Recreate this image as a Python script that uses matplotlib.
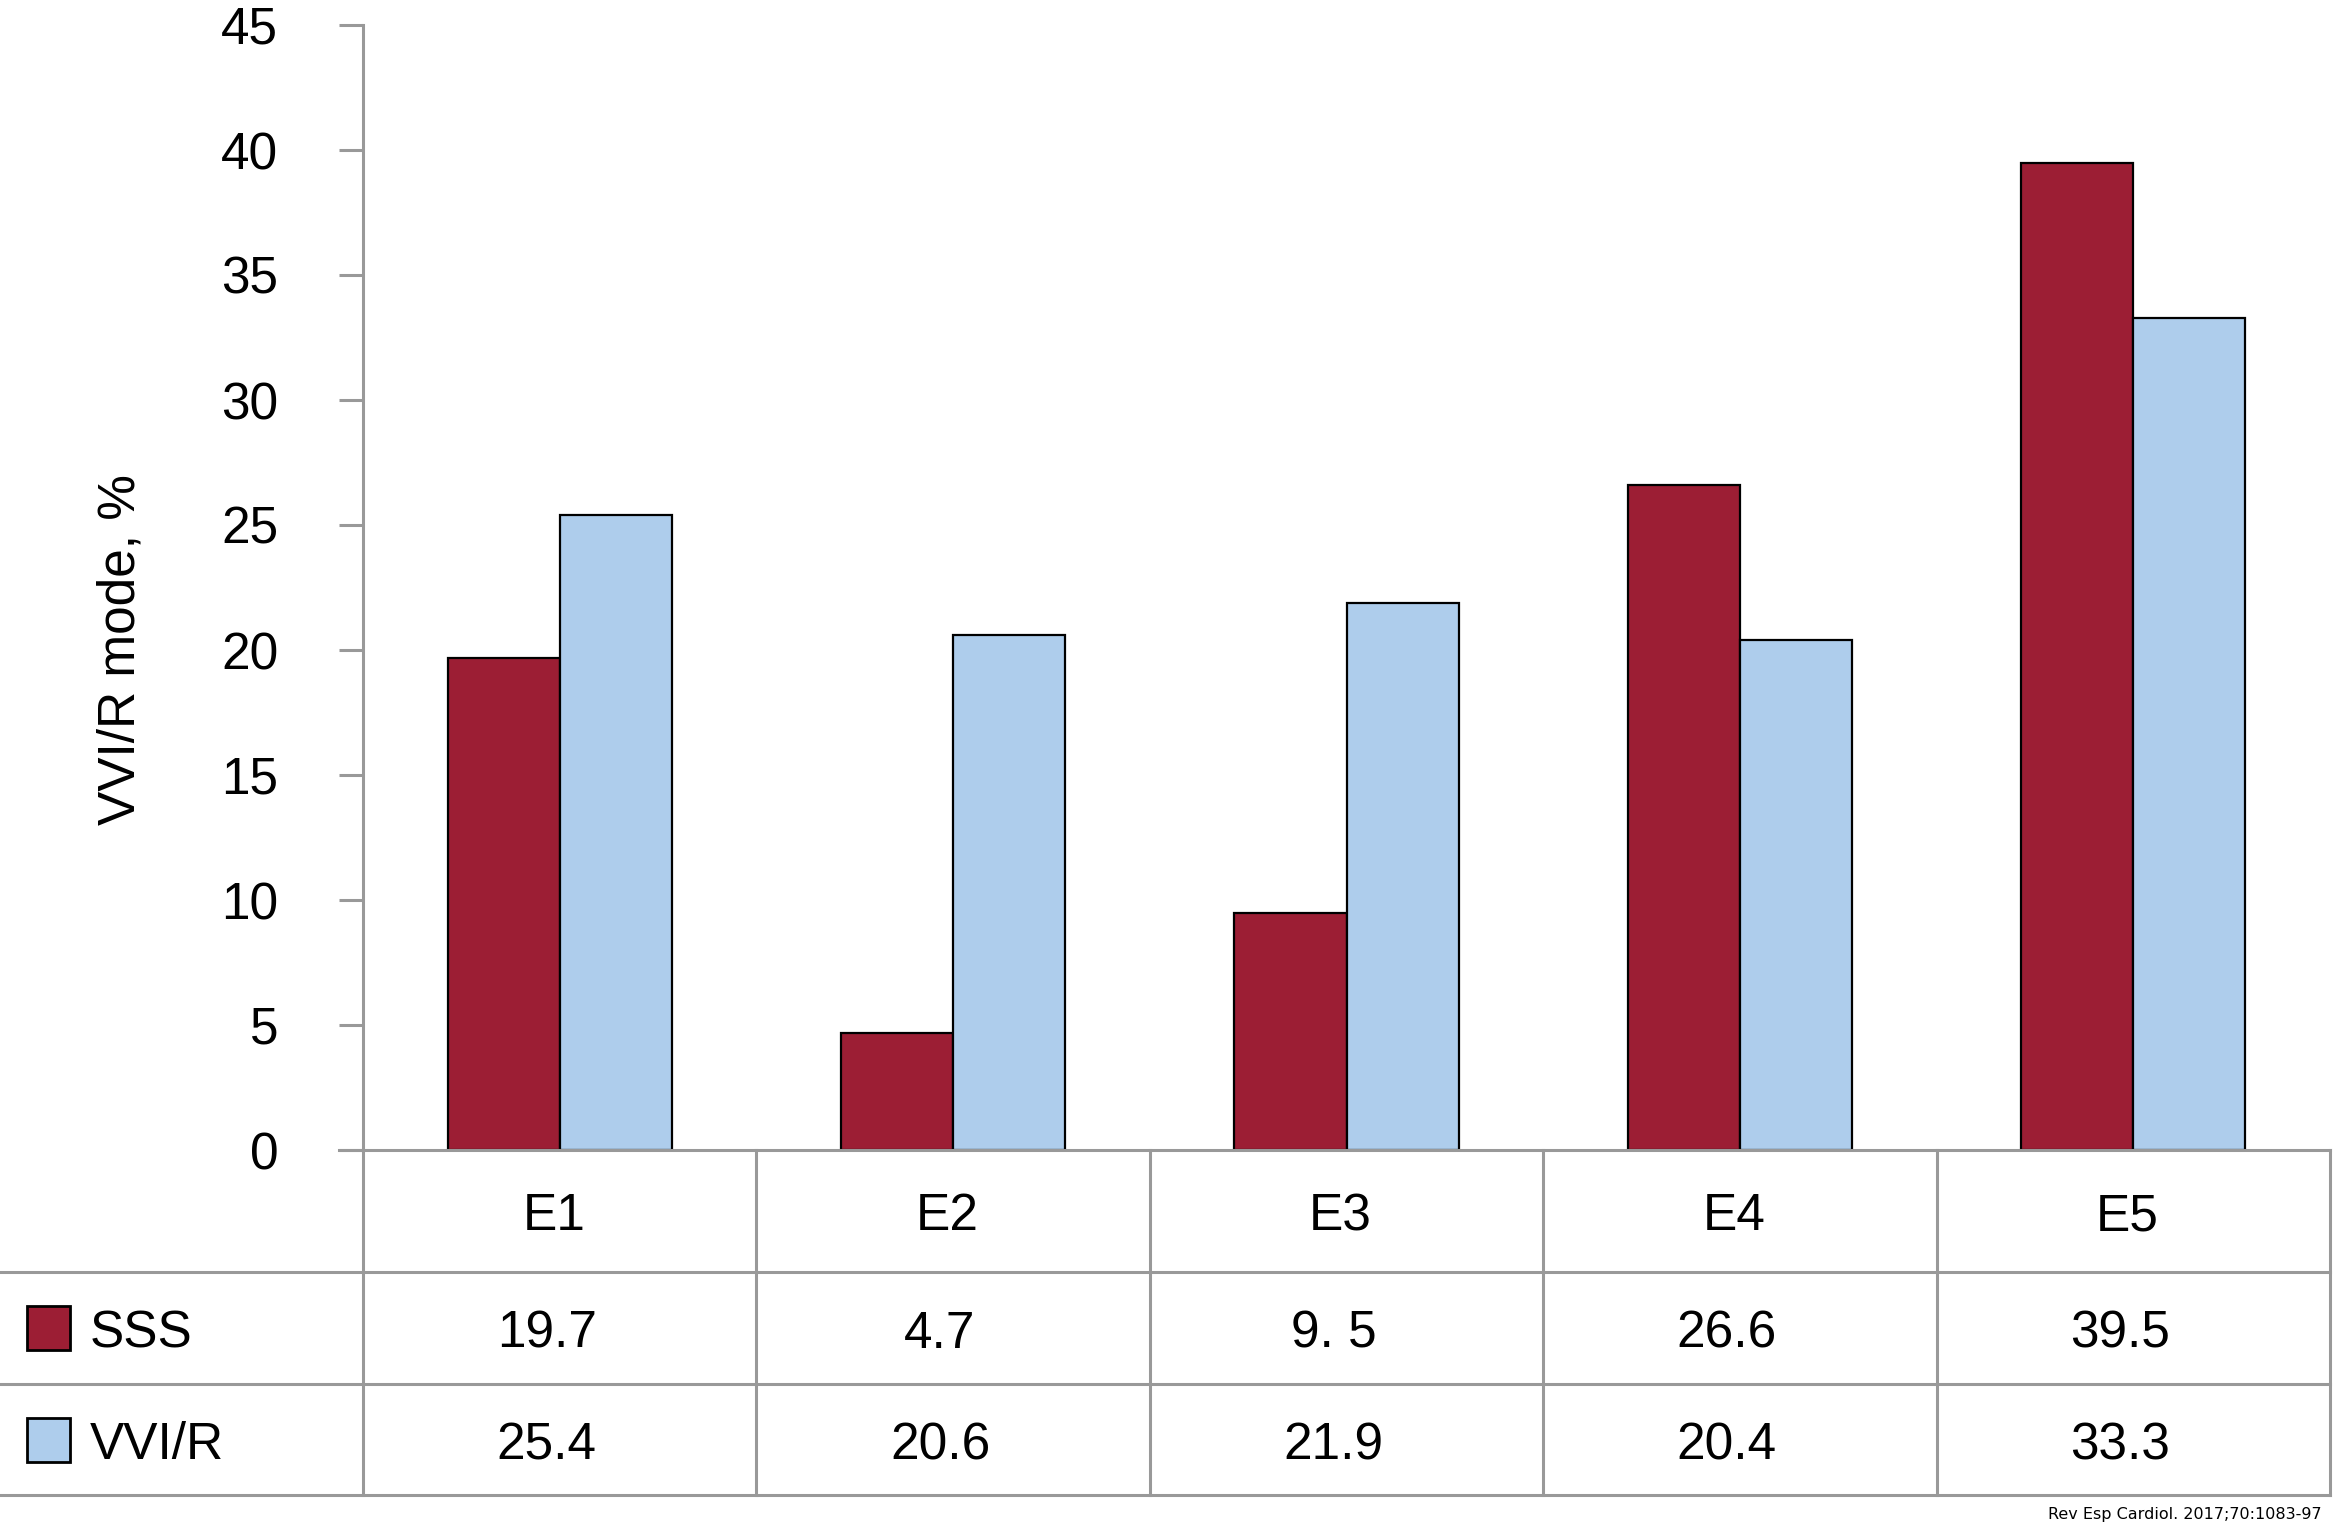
import matplotlib.pyplot as plt
import numpy as np

categories = ["E1", "E2", "E3", "E4", "E5"]
sss = [19.7, 4.7, 9.5, 26.6, 39.5]
vvir = [25.4, 20.6, 21.9, 20.4, 33.3]
sss_labels = ["19.7", "4.7", "9. 5", "26.6", "39.5"]
vvir_labels = ["25.4", "20.6", "21.9", "20.4", "33.3"]
yticks = [0, 5, 10, 15, 20, 25, 30, 35, 40, 45]

RED = "#9c1e34"
BLUE = "#aecdec"
GRID = "#999999"
FS = 37

W, H = 2333, 1537
plt.rcParams["font.family"] = ["Liberation Sans", "DejaVu Sans"]

fig = plt.figure(figsize=(W / 100, H / 100), dpi=100)

# pixel layout (from top-left)
ax_left, ax_right = 363, 2330
y_top, y_zero = 25, 1150
row_lines = [1150, 1272, 1384, 1495]
col_w = (ax_right - ax_left) / len(categories)

ax = fig.add_axes([ax_left / W, 1 - y_zero / H, (ax_right - ax_left) / W, (y_zero - y_top) / H])
x = np.arange(len(categories)) + 0.5
bw = 0.285
ax.bar(x - bw / 2, sss, bw, color=RED, edgecolor="black", linewidth=1.6, zorder=3)
ax.bar(x + bw / 2, vvir, bw, color=BLUE, edgecolor="black", linewidth=1.6, zorder=3)
ax.set_xlim(0, len(categories))
ax.set_ylim(0, 45)
ax.set_yticks(yticks)
ax.tick_params(axis="y", length=17, width=2.2, color=GRID, labelsize=FS, pad=44)
ax.set_xticks([])
for s in ["top", "right", "bottom"]:
    ax.spines[s].set_visible(False)
ax.spines["left"].set_color(GRID)
ax.spines["left"].set_linewidth(2.2)
fig.text(121 / W, 1 - 650 / H, "VVI/R mode, %", rotation=90, ha="center", va="center", fontsize=FS)

# table below the plot
tb = fig.add_axes([0, 1 - row_lines[-1] / H, ax_right / W, (row_lines[-1] - row_lines[0]) / H])
tb.set_xlim(-ax_left / col_w, len(categories))
tb.set_ylim(row_lines[-1], row_lines[0])
tb.axis("off")
lw = 2.2
tick_x = -24 / col_w
tb.plot([tick_x, len(categories)], [row_lines[0]] * 2, color=GRID, lw=lw, clip_on=False)
for yy in row_lines[1:]:
    tb.plot([-ax_left / col_w, len(categories)], [yy] * 2, color=GRID, lw=lw, clip_on=False)
for i in range(len(categories) + 1):
    tb.plot([i, i], [row_lines[0], row_lines[-1]], color=GRID, lw=lw, clip_on=False)

mid = [(row_lines[k] + row_lines[k + 1]) / 2 + 6 for k in range(3)]
head_dx = -6 / col_w
val_dx = -13 / col_w
for i, c in enumerate(categories):
    tb.text(i + 0.5 + head_dx, mid[0], c, ha="center", va="center", fontsize=FS)
    tb.text(i + 0.5 + val_dx, mid[1], sss_labels[i], ha="center", va="center", fontsize=FS)
    tb.text(i + 0.5 + val_dx, mid[2], vvir_labels[i], ha="center", va="center", fontsize=FS)

sq = 43 / col_w
sq_x = -ax_left / col_w + 27 / col_w
for k, (name, col) in enumerate([("SSS", RED), ("VVI/R", BLUE)]):
    yc = mid[k + 1] - 6
    tb.add_patch(plt.Rectangle((sq_x, yc - 22), sq, 44, facecolor=col, edgecolor="black", lw=2.0))
    tb.text(-ax_left / col_w + 90 / col_w, yc + 6, name, ha="left", va="center", fontsize=FS)

fig.text(2322 / W, 1 - 1515 / H, "Rev Esp Cardiol. 2017;70:1083-97", ha="right", va="center",
         fontsize=11.5, family="DejaVu Sans")

fig.savefig("out.png", dpi=100)
